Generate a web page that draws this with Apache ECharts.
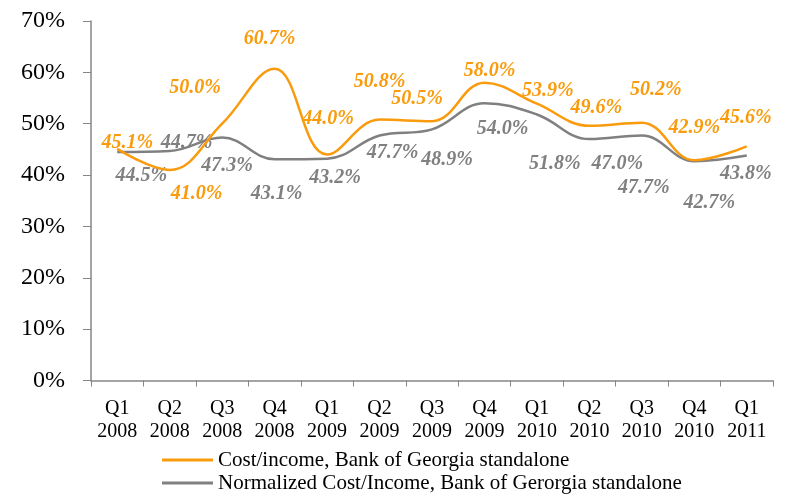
<!DOCTYPE html>
<html>
<head>
<meta charset="utf-8">
<script src="https://cdn.jsdelivr.net/npm/echarts@6/dist/echarts.min.js"></script>
<style>
  html, body { margin: 0; padding: 0; background: #fff; }
  #chart { width: 794px; height: 496px; }
</style>
</head>
<body>
<div id="chart"></div>
<script>
var categories = ["Q1\n2008", "Q2\n2008", "Q3\n2008", "Q4\n2008", "Q1\n2009", "Q2\n2009", "Q3\n2009",
  "Q4\n2009", "Q1\n2010", "Q2\n2010", "Q3\n2010", "Q4\n2010", "Q1\n2011"];
var costIncome = [45.1, 41.0, 50.0, 60.7, 44.0, 50.8, 50.5, 58.0, 53.9, 49.6, 50.2, 42.9, 45.6];
var normalized = [44.5, 44.7, 47.3, 43.1, 43.2, 47.7, 48.9, 54.0, 51.8, 47.0, 47.7, 42.7, 43.8];
var yTicks = [0, 10, 20, 30, 40, 50, 60, 70];

// label offsets (px), as Excel put them
var costOffsets = [[10, -6], [27, 24], [-27, -36], [-5, -30], [1, -36], [0, -38], [-15, -22],
  [5, -12], [11, -13], [7, -18], [14, -33], [0, -32], [-1, -28]];
var normOffsets = [[24, 24], [17, -8], [5, 28], [2, 35], [8, 19], [13, 17], [15, 30],
  [18, 26], [18, 49], [28, 25], [2, 52], [15, 42], [-1, 18]];

var ORANGE = "#F99B0C";
var GREY = "#808080";
var FONT = "Liberation Serif";

function points(values, offsets, color) {
  return values.map(function (v, i) {
    return {
      value: v,
      label: {
        show: true,
        position: "inside",
        offset: offsets[i],
        formatter: v.toFixed(1) + "%",
        color: color,
        fontFamily: FONT,
        fontSize: 20,
        fontWeight: "bold",
        fontStyle: "italic"
      }
    };
  });
}

var chart = echarts.init(document.getElementById("chart"));
chart.setOption({
  animation: false,
  grid: { left: 91, right: 21, top: 21, bottom: 115.5 },
  legend: {
    orient: "vertical",
    left: 162,
    top: 449,
    height: 60,
    padding: 0,
    itemWidth: 51,
    itemHeight: 3,
    itemGap: 1,
    textStyle: { fontFamily: FONT, fontSize: 21, lineHeight: 22, color: "#000" },
    data: [
      { name: "Cost/income, Bank of Georgia standalone", icon: "rect", itemStyle: { color: ORANGE } },
      { name: "Normalized Cost/Income, Bank of Gerorgia standalone", icon: "rect", itemStyle: { color: GREY } }
    ]
  },
  xAxis: {
    type: "category",
    data: categories,
    boundaryGap: true,
    axisLine: { lineStyle: { color: "#868686", width: 1.5 } },
    axisTick: { show: true, length: 6, lineStyle: { color: "#868686" } },
    axisLabel: { fontFamily: FONT, fontSize: 20, color: "#000", lineHeight: 23, margin: 17, interval: 0 }
  },
  yAxis: {
    type: "value",
    min: yTicks[0],
    max: yTicks[yTicks.length - 1],
    interval: 10,
    axisLine: { show: true, lineStyle: { color: "#868686", width: 1.5 } },
    axisTick: { show: true, length: 8, lineStyle: { color: "#868686" } },
    splitLine: { show: false },
    axisLabel: { fontFamily: FONT, fontSize: 24, color: "#000", margin: 26, formatter: "{value}%" }
  },
  series: [
    {
      name: "Cost/income, Bank of Georgia standalone",
      type: "line",
      smooth: 0.4,
      symbol: "circle",
      symbolSize: 0,
      showSymbol: true,
      lineStyle: { color: ORANGE, width: 2.5 },
      itemStyle: { color: ORANGE },
      data: points(costIncome, costOffsets, ORANGE),
      z: 3
    },
    {
      name: "Normalized Cost/Income, Bank of Gerorgia standalone",
      type: "line",
      smooth: 0.4,
      symbol: "circle",
      symbolSize: 0,
      showSymbol: true,
      lineStyle: { color: GREY, width: 2.5 },
      itemStyle: { color: GREY },
      data: points(normalized, normOffsets, GREY),
      z: 2
    }
  ]
});
</script>
</body>
</html>
